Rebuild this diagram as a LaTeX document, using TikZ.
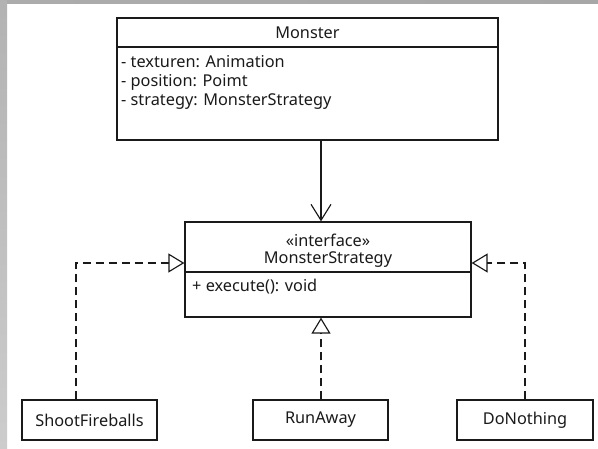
\documentclass[tikz,border=0pt]{standalone}
\usepackage{fontspec}
\setmainfont{Noto Sans}
\usetikzlibrary{arrows.meta}
\definecolor{ink}{HTML}{1A1A1A}
\tikzset{
  box/.style={draw=ink, line width=1.25pt, rectangle, inner sep=0pt, fill=white},
  txt/.style={inner sep=0pt, text=ink, font=\fontsize{16.3}{19}\selectfont},
  assoc/.style={draw=ink, line width=1.15pt, -{Straight Barb[length=16pt,width=20pt,line width=1.15pt]}},
  real/.style={draw=ink, line width=1.15pt, dash pattern=on 8pt off 5pt, -{Triangle[open,length=16pt,width=19pt,line width=1.15pt]}}
}
\begin{document}
\begin{tikzpicture}[x=1pt,y=-1pt]
\useasboundingbox (0,0) rectangle (598,449);
\fill[white] (0,0) rectangle (598,449);
\shade[left color=gray!65, right color=gray!85!black!60] (0,0) rectangle (598,4);
\shade[top color=gray!60, bottom color=gray!40] (0,0) rectangle (7,449);

% Monster class
\node[box, minimum width=381pt, minimum height=122pt] (monster) at (307.5,79) {};
\draw[draw=ink, line width=1.15pt] (117,47) coordinate (mhl) -- (498,47) coordinate (mhr);
\node[txt] (mtitle) at (307.5,33) {Monster};
\node[txt, anchor=west] (ma1) at (121,62) {- texturen: Animation};
\node[txt, anchor=west] (ma2) at (121,82) {- position: Poimt};
\node[txt, anchor=west] (ma3) at (121,102) {- strategy: MonsterStrategy};

% MonsterStrategy interface
\node[box, minimum width=286pt, minimum height=95pt] (ms) at (328,269.5) {};
\draw[draw=ink, line width=1.15pt] (185,272) coordinate (shl) -- (471,272) coordinate (shr);
\node[txt] (mst) at (328,240) {«interface»};
\node[txt] (msn) at (328,260) {MonsterStrategy};
\node[txt, anchor=west] (mso) at (192,287) {+ execute(): void};

% implementations
\node[box, minimum width=135pt, minimum height=40pt] (sf) at (89.5,420) {};
\node[txt] (sft) at (89.5,420) {ShootFireballs};
\node[box, minimum width=135pt, minimum height=40pt] (ra) at (320.5,420) {};
\node[txt] (rat) at (320.5,420) {RunAway};
\node[box, minimum width=136pt, minimum height=40pt] (dn) at (525,420) {};
\node[txt] (dnt) at (525,420) {DoNothing};

% connectors
\coordinate (ax) at (321,0);
\coordinate (lc) at (76,263);
\coordinate (rc) at (525,263);
\draw[assoc] (monster.south -| ax) -- (ms.north -| ax);
\draw[real] (sf.north -| lc) |- (lc -| ms.west);
\draw[real] (ra.north -| ax) -- (ms.south -| ax);
\draw[real] (dn.north -| rc) |- (rc -| ms.east);
\end{tikzpicture}
\end{document}
